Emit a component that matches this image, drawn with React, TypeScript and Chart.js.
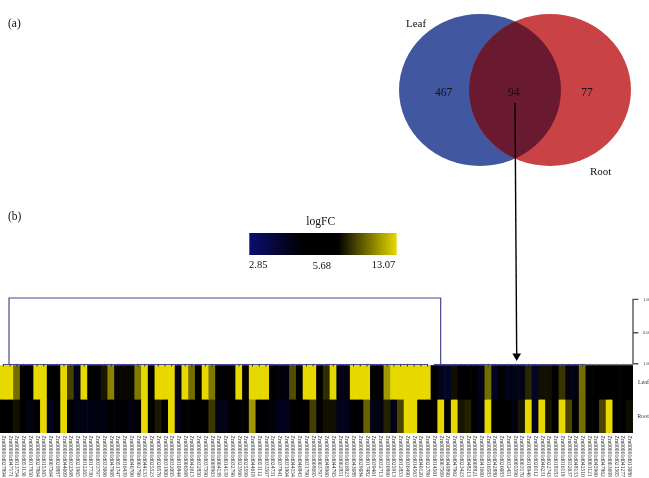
import React, { useEffect, useRef } from "react";
import { Chart, registerables } from "chart.js";

Chart.register(...registerables);

const W = 649;
const H = 478;
const SERIF = "'Liberation Serif', serif";

const geneIds = [
  "027894","047171","013754","051130","017950","027864","015365","007564","029887","044609",
  "032568","021965","012265","017730","033797","033066","047968","051747","016439","040706",
  "002796","044133","025523","020576","031900","032095","010844","006568","042613","032850",
  "037590","008963","004138","014139","032796","023566","025599","044618","051112","033507",
  "024731","037841","031904","044154","046843","031790","008695","003797","048960","044795",
  "002851","026823","043688","029084","017482","039461","032713","030866","025913","012853",
  "036490","014563","040120","022786","014561","007569","049890","047962","023423","048213",
  "008821","041660","016583","042880","026083","032451","005596","003170","018946","020112",
  "046231","022743","018183","016119","032037","048133","042510","001121","045966","047862",
  "003698","021505","041277","013086",
];
const genes = geneIds.map((id) => "Zm00001d" + id);

const rowNames = ["Leaf", "Root"];
const leafLogFC = [
  13.07,13.07,9.4,5.68,5.68,13.07,13.07,5.68,5.68,13.07,7.9,5.1,13.07,5.68,5.68,6.4,10.1,5.9,5.9,5.9,
  9.75,13.07,5.68,13.07,13.07,13.07,5.1,13.07,9.4,5.68,13.07,9.75,5.68,5.68,5.68,13.07,5.68,13.07,13.07,13.07,
  5.68,5.5,5.4,8.3,5.68,13.07,13.07,5.68,7.2,13.07,5.2,5.2,13.07,13.07,13.07,5.68,5.68,10.85,13.07,13.07,
  13.07,13.07,13.07,13.07,5.68,5.0,4.7,6.2,5.6,5.6,5.6,5.1,9.4,4.8,5.68,5.1,5.1,5.1,7.0,4.7,
  6.2,6.2,5.68,7.5,5.2,5.2,9.4,5.68,5.68,5.68,5.68,5.68,5.68,5.68,
];
const rootLogFC = [
  5.68,5.68,6.2,5.68,5.2,5.68,13.07,4.9,5.68,13.07,5.68,5.2,5.2,5.2,5.3,5.3,5.6,5.6,5.6,5.2,
  5.68,13.07,5.68,6.5,5.68,13.07,5.0,5.68,5.68,5.68,5.68,7.6,5.1,5.2,5.68,5.68,5.68,10.8,5.6,5.6,
  5.5,5.0,5.0,5.68,5.68,5.68,7.8,5.68,6.2,6.2,5.0,5.0,5.68,5.68,9.0,5.2,5.2,6.8,5.2,8.0,
  13.07,13.07,5.68,5.68,5.68,13.07,5.68,13.07,6.4,6.8,5.68,5.2,13.07,5.68,5.68,5.68,5.3,6.4,13.07,4.9,
  13.07,6.4,5.68,13.07,8.0,5.68,9.4,5.68,5.68,8.0,13.07,5.68,5.68,6.1,
];

const colorMin = 2.85;
const colorMid = 5.68;
const colorMax = 13.07;
const navy = [10, 14, 112];
const yellow = [231, 217, 0];

const dendroColor = "#48488f";
const dendroBracketX = [0.84, 0.84, 64.94, 64.94];
const dendroBracketY = [2.03, 4, 4, 2.03];
const leftClusterX = [-0.05, 63.06];
const rightClusterX = [63.95, 86.5];
const outlierClusterX = [86.5, 93.5];
const clusterY = 2.03;
const heightScaleX = [94.3, 93.5, 93.5, 94.3, 93.5, 93.5, 94.3];
const heightScaleY = [3.96, 3.96, 2.97, 2.97, 2.97, 2.05, 2.05];
const rightTicks: [number, string][] = [[3.96, "1.0"], [2.97, "0.0"], [2.05, "1.0"], [1.5, "Leaf"], [0.5, "Root"]];

const vennSets = [
  { name: "Leaf", x: 480, y: 90, r: 81, color: "#41579f", order: 6 },
  { name: "Root", x: 550, y: 90, r: 81, color: "#c94245", order: 5 },
];
const vennAspect = 76 / 81;
const vennOverlapColor = "#6a1a30";
const arrowX = [515, 516.7];
const arrowY = [103, 356];
const colorbarX = [249.3, 396.7];
const colorbarY = 244;
const overlayTexts: [string, number, number, string, number][] = [
  ["(a)", 8, 24, "left", 11.5],
  ["(b)", 8, 217, "left", 11.5],
  ["Leaf", 406, 24, "left", 11],
  ["Root", 590, 172, "left", 11],
  ["467", 443.7, 93, "center", 11.5],
  ["94", 513.7, 93, "center", 11.5],
  ["77", 587, 93, "center", 11.5],
  ["logFC", 320.7, 222, "center", 11.5],
  ["2.85", 249, 265, "left", 10.5],
  ["5.68", 312.7, 266, "left", 10.5],
  ["13.07", 371.7, 265, "left", 10.5],
];

function cellColor(v: number) {
  const ref = v < colorMid ? navy : yellow;
  const f = v < colorMid ? (colorMid - v) / (colorMid - colorMin) : (v - colorMid) / (colorMax - colorMid);
  return `rgb(${ref.map((c) => Math.round(c * f)).join(",")})`;
}

const xy = (xs: number[], ys: number[]) => xs.map((x, i) => ({ x, y: ys[i] }));
const flat = (xs: number[], y: number) => xs.map((x) => ({ x, y }));

const geneLabelPlugin = {
  id: "geneLabels",
  afterDraw(chart: any) {
    const { ctx, scales } = chart;
    ctx.save();
    ctx.font = `5.6px ${SERIF}`;
    ctx.fillStyle = "#333";
    ctx.textAlign = "left";
    ctx.textBaseline = "middle";
    genes.forEach((g, i) => {
      ctx.save();
      ctx.translate(scales.x.getPixelForTick(i), 435.5);
      ctx.rotate(Math.PI / 2);
      ctx.fillText(g, 0, 0);
      ctx.restore();
    });
    ctx.restore();
  },
};

const ellipsePath = (ctx: CanvasRenderingContext2D, el: any) => {
  ctx.beginPath();
  ctx.ellipse(el.x, el.y, el.options.radius, el.options.radius * vennAspect, 0, 0, Math.PI * 2);
};

const vennPlugin = {
  id: "venn",
  beforeDatasetDraw(chart: any, args: any) {
    if (args.index > 1) return;
    const { ctx } = chart;
    const el = args.meta.data[0];
    ctx.save();
    ctx.translate(0, el.y);
    ctx.scale(1, vennAspect);
    ctx.translate(0, -el.y);
  },
  afterDatasetDraw(chart: any, args: any) {
    if (args.index > 1) return;
    const { ctx } = chart;
    ctx.restore();
    if (args.index === 1) {
      const leaf = chart.getDatasetMeta(0).data[0];
      const root = args.meta.data[0];
      ctx.save();
      ellipsePath(ctx, leaf);
      ctx.clip();
      ellipsePath(ctx, root);
      ctx.fillStyle = vennOverlapColor;
      ctx.fill();
      ctx.restore();
    }
  },
  afterDatasetsDraw(chart: any) {
    const { ctx, scales } = chart;
    ctx.save();
    ctx.fillStyle = "#111";
    ctx.textBaseline = "middle";
    overlayTexts.forEach(([t, x, y, align, size]) => {
      ctx.textAlign = align;
      ctx.font = `${size}px ${SERIF}`;
      ctx.fillText(t, scales.x.getPixelForValue(x), scales.y.getPixelForValue(y));
    });
    ctx.restore();
  },
};

export default function App() {
  const heatRef = useRef<HTMLCanvasElement>(null);
  const topRef = useRef<HTMLCanvasElement>(null);

  useEffect(() => {
    const line = (data: any[], color: string, width: number) => ({
      type: "line" as const,
      xAxisID: "xd",
      yAxisID: "y",
      data,
      borderColor: color,
      borderWidth: width,
      pointRadius: 0,
      clip: false as any,
      order: 1,
    });
    const heat = new Chart(heatRef.current!, {
      type: "bar",
      data: {
        labels: genes,
        datasets: [
          {
            label: rowNames[0],
            data: leafLogFC.map(() => [1, 2]) as any,
            backgroundColor: leafLogFC.map(cellColor),
            barPercentage: 1,
            categoryPercentage: 1,
            grouped: false,
            borderWidth: 0,
            order: 3,
          },
          {
            label: rowNames[1],
            data: rootLogFC.map(() => [0, 1]) as any,
            backgroundColor: rootLogFC.map(cellColor),
            barPercentage: 1,
            categoryPercentage: 1,
            grouped: false,
            borderWidth: 0,
            order: 3,
          },
          line(xy(dendroBracketX, dendroBracketY), dendroColor, 1.2),
          line(flat(leftClusterX, clusterY), dendroColor, 1.2),
          line(flat(rightClusterX, clusterY), dendroColor, 1.2),
          line(flat(outlierClusterX, clusterY), "#777", 1.2),
          line(xy(heightScaleX, heightScaleY), "#555", 1.4),
          {
            ...line(flat(genes.map((_, i) => i), clusterY - 0.02), "#223", 1),
            showLine: false,
            pointStyle: "line",
            rotation: 90,
            pointRadius: 1.3,
            pointBorderColor: "#223",
            pointBorderWidth: 1,
          },
        ] as any,
      },
      options: {
        animation: false,
        responsive: false,
        events: [],
        layout: { autoPadding: false, padding: { top: 298, left: 0, right: 0, bottom: 0 } },
        plugins: { legend: { display: false }, tooltip: { enabled: false } },
        scales: {
          x: {
            type: "category",
            grid: { display: false },
            border: { display: false },
            ticks: { display: false, autoSkip: false },
            afterFit: (s: any) => { s.height = 45; },
          },
          xd: { type: "linear", min: -0.5, max: 93.5, display: false, offset: false },
          y: {
            type: "linear",
            position: "right",
            min: 0,
            max: 4,
            grid: { display: false, drawTicks: false },
            border: { display: false },
            afterBuildTicks: (s: any) => { s.ticks = rightTicks.map(([value]) => ({ value })); },
            ticks: {
              padding: 2,
              autoSkip: false,
              crossAlign: "far",
              font: (c: any) => ({ family: SERIF, size: c.tick && c.tick.value > 2 ? 4.8 : 6 }),
              color: "#333",
              callback: (v: any) => rightTicks.find(([p]) => p === v)?.[1] ?? "",
            },
            afterFit: (s: any) => { s.width = 16; },
          },
        },
      } as any,
      plugins: [geneLabelPlugin],
    });

    const top = new Chart(topRef.current!, {
      type: "bubble",
      data: {
        datasets: [
          ...vennSets.map((v) => ({
            label: v.name,
            data: [{ x: v.x, y: v.y, r: v.r }],
            backgroundColor: v.color,
            borderWidth: 0,
            clip: false,
            order: v.order,
          })),
          {
            type: "line",
            data: flat(colorbarX, colorbarY),
            borderWidth: 22,
            borderCapStyle: "butt",
            pointRadius: 0,
            order: 2,
            borderColor: (c: any) => {
              const g = c.chart.ctx.createLinearGradient(colorbarX[0], 0, colorbarX[1], 0);
              g.addColorStop(0, cellColor(colorMin));
              g.addColorStop(0.36, cellColor(colorMid));
              g.addColorStop(0.6, cellColor(colorMid));
              g.addColorStop(1, cellColor(colorMax));
              return g;
            },
          },
          {
            type: "line",
            data: xy(arrowX, arrowY),
            borderColor: "#000",
            backgroundColor: "#000",
            borderWidth: 1.4,
            pointStyle: "triangle",
            rotation: 180,
            pointRadius: [0, 5],
            pointBorderWidth: 0,
            order: 1,
          },
        ] as any,
      },
      options: {
        animation: false,
        responsive: false,
        events: [],
        layout: { autoPadding: false, padding: 0 },
        plugins: { legend: { display: false }, tooltip: { enabled: false } },
        scales: {
          x: { type: "linear", min: 0, max: W, display: false, offset: false },
          y: { type: "linear", min: 0, max: H, reverse: true, display: false },
        },
      } as any,
      plugins: [vennPlugin],
    });

    return () => {
      heat.destroy();
      top.destroy();
    };
  }, []);

  const layer: React.CSSProperties = { position: "absolute", left: 0, top: 0, display: "block" };
  return (
    <div style={{ position: "absolute", left: 0, top: 0, width: W, height: H, background: "#fff", overflow: "hidden" }}>
      <canvas ref={heatRef} width={W} height={H} style={layer} />
      <canvas ref={topRef} width={W} height={H} style={layer} />
    </div>
  );
}
